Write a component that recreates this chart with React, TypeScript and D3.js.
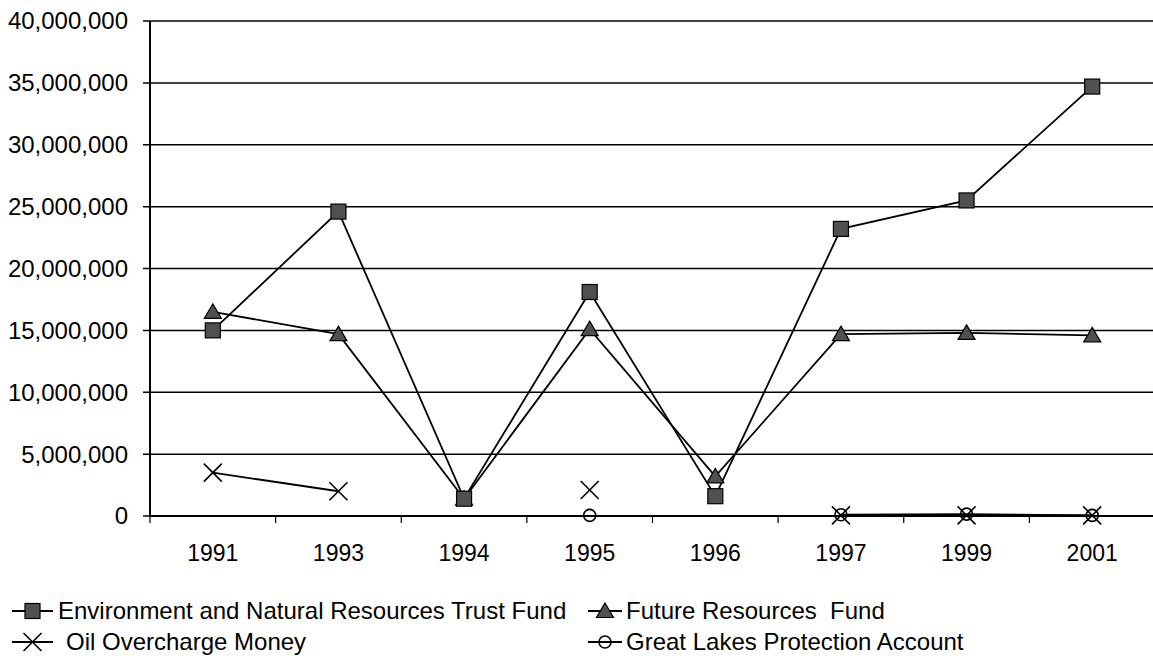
import React from "react";
import * as d3 from "d3";

const categories = ["1991", "1993", "1994", "1995", "1996", "1997", "1999", "2001"];
const envTrust = [15000000, 24600000, 1400000, 18100000, 1600000, 23200000, 25500000, 34700000];
const futureRes = [16500000, 14700000, 1400000, 15100000, 3200000, 14700000, 14800000, 14600000];
const oilOvercharge: (number | null)[] = [3500000, 2000000, null, 2100000, null, 50000, 50000, 50000];
const greatLakes: (number | null)[] = [null, null, null, 50000, null, 100000, 150000, 50000];
const yTicks = [0, 5000000, 10000000, 15000000, 20000000, 25000000, 30000000, 35000000, 40000000];
const seriesNames = [
  "Environment and Natural Resources Trust Fund",
  "Future Resources\u00a0 Fund",
  "Oil Overcharge Money",
  "Great Lakes Protection Account",
];

const W = 1153;
const H = 659;
const L = 150;
const R = 1155;
const T = 21;
const B = 516;
const FONT = "Arial, 'Liberation Sans', sans-serif";
const MFILL = "#505050";

type Kind = "square" | "triangle" | "x" | "circle";

function Marker({ kind, x, y }: { kind: Kind; x: number; y: number }) {
  if (kind === "square") {
    return <rect x={x - 7.5} y={y - 7.5} width={15} height={15} fill={MFILL} stroke="#000" strokeWidth={1.2} />;
  }
  if (kind === "triangle") {
    const p = d3.path();
    p.moveTo(x, y - 8);
    p.lineTo(x + 8.5, y + 6.5);
    p.lineTo(x - 8.5, y + 6.5);
    p.closePath();
    return <path d={p.toString()} fill={MFILL} stroke="#000" strokeWidth={1.2} />;
  }
  if (kind === "x") {
    return (
      <g stroke="#000" strokeWidth={1.6}>
        <line x1={x - 9} y1={y - 9} x2={x + 9} y2={y + 9} />
        <line x1={x - 9} y1={y + 9} x2={x + 9} y2={y - 9} />
      </g>
    );
  }
  return <circle cx={x} cy={y} r={6} fill="none" stroke="#000" strokeWidth={1.6} />;
}

export default function App() {
  const x = d3.scaleBand<string>().domain(categories).range([L, R]).padding(0);
  const y = d3.scaleLinear().domain([0, 40000000]).range([B, T]);
  const cx = (c: string) => (x(c) as number) + x.bandwidth() / 2;

  const series: { vals: (number | null)[]; kind: Kind }[] = [
    { vals: envTrust, kind: "square" },
    { vals: futureRes, kind: "triangle" },
    { vals: oilOvercharge, kind: "x" },
    { vals: greatLakes, kind: "circle" },
  ];
  const markerOrder = [1, 0, 2, 3];

  const line = d3
    .line<[string, number | null]>()
    .defined((d) => d[1] != null)
    .x((d) => cx(d[0]))
    .y((d) => y(d[1] as number));

  const fmt = d3.format(",");

  const legend = [
    { kind: "square" as Kind, lx: 12, lw: 41, ly: 611, name: seriesNames[0], tx: 58 },
    { kind: "triangle" as Kind, lx: 588, lw: 34, ly: 611, name: seriesNames[1], tx: 626 },
    { kind: "x" as Kind, lx: 12, lw: 41, ly: 642, name: seriesNames[2], tx: 66 },
    { kind: "circle" as Kind, lx: 588, lw: 34, ly: 642, name: seriesNames[3], tx: 626 },
  ];

  return (
    <svg width={W} height={H} style={{ position: "absolute", left: 0, top: 0, background: "#fff" }}>
      <rect width={W} height={H} fill="#fff" />
      {yTicks.map((t) => (
        <g key={t}>
          <line x1={L - 7} x2={R} y1={y(t)} y2={y(t)} stroke="#000" strokeWidth={1.5} />
          <text x={128} y={y(t)} dy="0.35em" textAnchor="end" fontFamily={FONT} fontSize={24} fill="#000">
            {fmt(t)}
          </text>
        </g>
      ))}
      <line x1={L} x2={L} y1={T} y2={B} stroke="#000" strokeWidth={2} />
      <line x1={L} x2={R} y1={B} y2={B} stroke="#000" strokeWidth={2} />
      {categories.map((c) => (
        <g key={c}>
          <line x1={x(c) as number} x2={x(c) as number} y1={B} y2={B + 7} stroke="#000" strokeWidth={1.2} />
          <text x={cx(c)} y={553} dy="0.35em" textAnchor="middle" fontFamily={FONT} fontSize={23} fill="#000">
            {c}
          </text>
        </g>
      ))}
      {series.map((s, i) => (
        <path
          key={"l" + i}
          d={line(categories.map((c, j) => [c, s.vals[j]] as [string, number | null])) || ""}
          fill="none"
          stroke="#000"
          strokeWidth={1.8}
        />
      ))}
      {markerOrder.map((i) =>
        categories.map((c, j) =>
          series[i].vals[j] == null ? null : (
            <Marker key={`m${i}-${j}`} kind={series[i].kind} x={cx(c)} y={y(series[i].vals[j] as number)} />
          )
        )
      )}
      {legend.map((g, i) => (
        <g key={"lg" + i}>
          <line x1={g.lx} x2={g.lx + g.lw} y1={g.ly} y2={g.ly} stroke="#000" strokeWidth={1.8} />
          <Marker kind={g.kind} x={g.lx + g.lw / 2} y={g.ly} />
          <text x={g.tx} y={g.ly} dy="0.35em" fontFamily={FONT} fontSize={24} fill="#000">
            {g.name}
          </text>
        </g>
      ))}
    </svg>
  );
}
